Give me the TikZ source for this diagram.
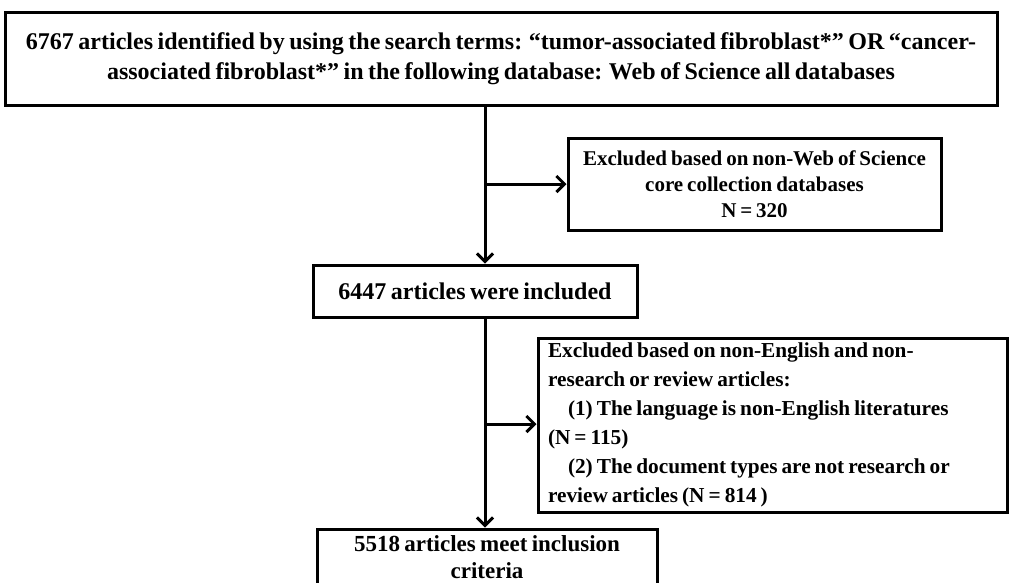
\documentclass[tikz,border=0pt]{standalone}
\usepackage{fontspec}
\setmainfont[WordSpace=0.75]{Liberation Serif}
\usetikzlibrary{arrows.meta}
\begin{document}
\begin{tikzpicture}[x=1pt,y=-1pt,
  box/.style={draw,line width=3pt,inner sep=0pt,align=center,font=\bfseries\fontsize{21.3}{29}\selectfont},
  flow/.style={line width=3pt,-{Straight Barb[length=8pt,width=16pt,line width=3pt]}}]
\useasboundingbox (0,0) rectangle (1010,582);
% boxes
\node[box,minimum width=992,minimum height=93,font=\bfseries\fontsize{24}{30}\selectfont] (ident) at (501,58.5)
  {6767 articles identified by using the search terms: “tumor-associated fibroblast*” OR “cancer-\\associated fibroblast*” in the following database: Web of Science all databases};
\node[box,minimum width=373,minimum height=92,font=\bfseries\fontsize{21}{26}\selectfont] (excl1) at (754.5,184)
  {Excluded based on non-Web of Science\\core collection databases\\N = 320};
\node[box,minimum width=324,minimum height=52,font=\bfseries\fontsize{24}{29}\selectfont] (incl) at (475,291) {6447 articles were included};
\node[box,align=flush left,inner xsep=10pt,text width=449pt,minimum height=174] (excl2) at (772.5,425)
  {Excluded based on non-English and non-\\research or review articles:\\
   \hspace*{20pt}(1) The language is non-English literatures\\(N = 115)\\
   \hspace*{20pt}(2) The document types are not research or\\review articles (N = 814 )};
\node[box,minimum width=340,minimum height=56,font=\bfseries\fontsize{23}{27}\selectfont] (final) at (487,557)
  {5518 articles meet inclusion\\criteria};
% connectors
\coordinate (j1) at (485,184);
\coordinate (j2) at (485,424);
\draw[flow] (ident.south -| j1) -- (incl.north -| j1);
\draw[flow] (j1) -- (excl1.west);
\draw[flow] (incl.south -| j2) -- (final.north -| j2);
\draw[flow] (j2) -- (excl2.west |- j2);
\end{tikzpicture}
\end{document}
